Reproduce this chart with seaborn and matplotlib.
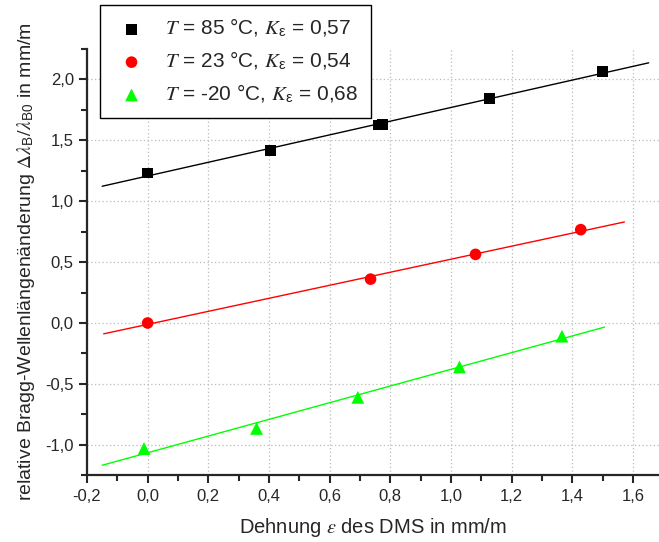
import numpy as np
import pandas as pd
import seaborn as sns
import matplotlib.pyplot as plt
from matplotlib.ticker import MultipleLocator, FuncFormatter

x_85 = [0.0, 0.405, 0.76, 0.775, 1.128, 1.50]
y_85 = [1.23, 1.415, 1.625, 1.63, 1.84, 2.065]
x_23 = [0.0, 0.735, 1.081, 1.428]
y_23 = [0.0, 0.36, 0.563, 0.766]
x_m20 = [-0.012, 0.359, 0.693, 1.028, 1.366]
y_m20 = [-1.03, -0.865, -0.61, -0.36, -0.108]

# x range covered by each fit line
fit_range_85 = [-0.15, 1.652]
fit_range_23 = [-0.145, 1.572]
fit_range_m20 = [-0.15, 1.506]

labels = [r'$T$ = 85 °C, $K_{\mathregular{ε}}$ = 0,57',
          r'$T$ = 23 °C, $K_{\mathregular{ε}}$ = 0,54',
          r'$T$ = -20 °C, $K_{\mathregular{ε}}$ = 0,68']

sns.set_style('ticks')
plt.rcParams['font.family'] = ['Liberation Sans', 'DejaVu Sans']
plt.rcParams['mathtext.fontset'] = 'stix'

fig = plt.figure(figsize=(6.59, 5.42), dpi=100)
ax = fig.add_axes([0.132, 0.123, 0.868, 0.787])

series = [(x_85, y_85, fit_range_85, 'black', 's', 60),
          (x_23, y_23, fit_range_23, 'red', 'o', 70),
          (x_m20, y_m20, fit_range_m20, '#00ff00', '^', 85)]

for (xs, ys, rng, col, mk, sz), lab in zip(series, labels):
    df = pd.DataFrame({'x': xs, 'y': ys})
    k, d = np.polyfit(df.x, df.y, 1)
    fit = pd.DataFrame({'x': rng, 'y': [k * v + d for v in rng]})
    sns.lineplot(data=fit, x='x', y='y', color=col, lw=1.0, ax=ax, zorder=2)
    sns.scatterplot(data=df, x='x', y='y', color=col, marker=mk, s=sz,
                    edgecolor='none', label=lab, ax=ax, zorder=3)

ax.set_xlim(-0.2, 1.686)
ax.set_ylim(-1.25, 2.25)
ax.xaxis.set_major_locator(MultipleLocator(0.2))
ax.xaxis.set_minor_locator(MultipleLocator(0.1))
ax.yaxis.set_major_locator(MultipleLocator(0.5))
ax.yaxis.set_minor_locator(MultipleLocator(0.25))
comma = FuncFormatter(lambda v, p: ('%.1f' % v).replace('.', ','))
ax.xaxis.set_major_formatter(comma)
ax.yaxis.set_major_formatter(comma)

ax.grid(True, which='major', color='#bbbbbb', linestyle=(0, (1, 2)), lw=0.9)
ax.set_axisbelow(True)
sns.despine(ax=ax)
for s in ['left', 'bottom']:
    ax.spines[s].set_linewidth(1.6)
ax.tick_params(which='major', direction='out', length=6, width=1.5, labelsize=12)
ax.tick_params(which='minor', direction='out', length=4, width=1.5)

ax.set_xlabel(r'Dehnung $\mathit{\varepsilon}$ des DMS in mm/m', fontsize=14.5, labelpad=9)
ax.set_ylabel(r'relative Bragg-Wellenlängenänderung $\mathit{\Delta\lambda}_{\mathregular{B}}/\mathit{\lambda}_{\mathregular{B0}}$ in mm/m',
              fontsize=14, labelpad=6)

leg = ax.legend(loc='upper left', bbox_to_anchor=(0.005, 1.128), fontsize=15,
                frameon=True, fancybox=False, edgecolor='black', framealpha=1,
                handletextpad=0.7, borderpad=0.6, labelspacing=0.5, handlelength=1.8)
leg.get_frame().set_linewidth(1.0)

fig.savefig('out.png', dpi=100)
